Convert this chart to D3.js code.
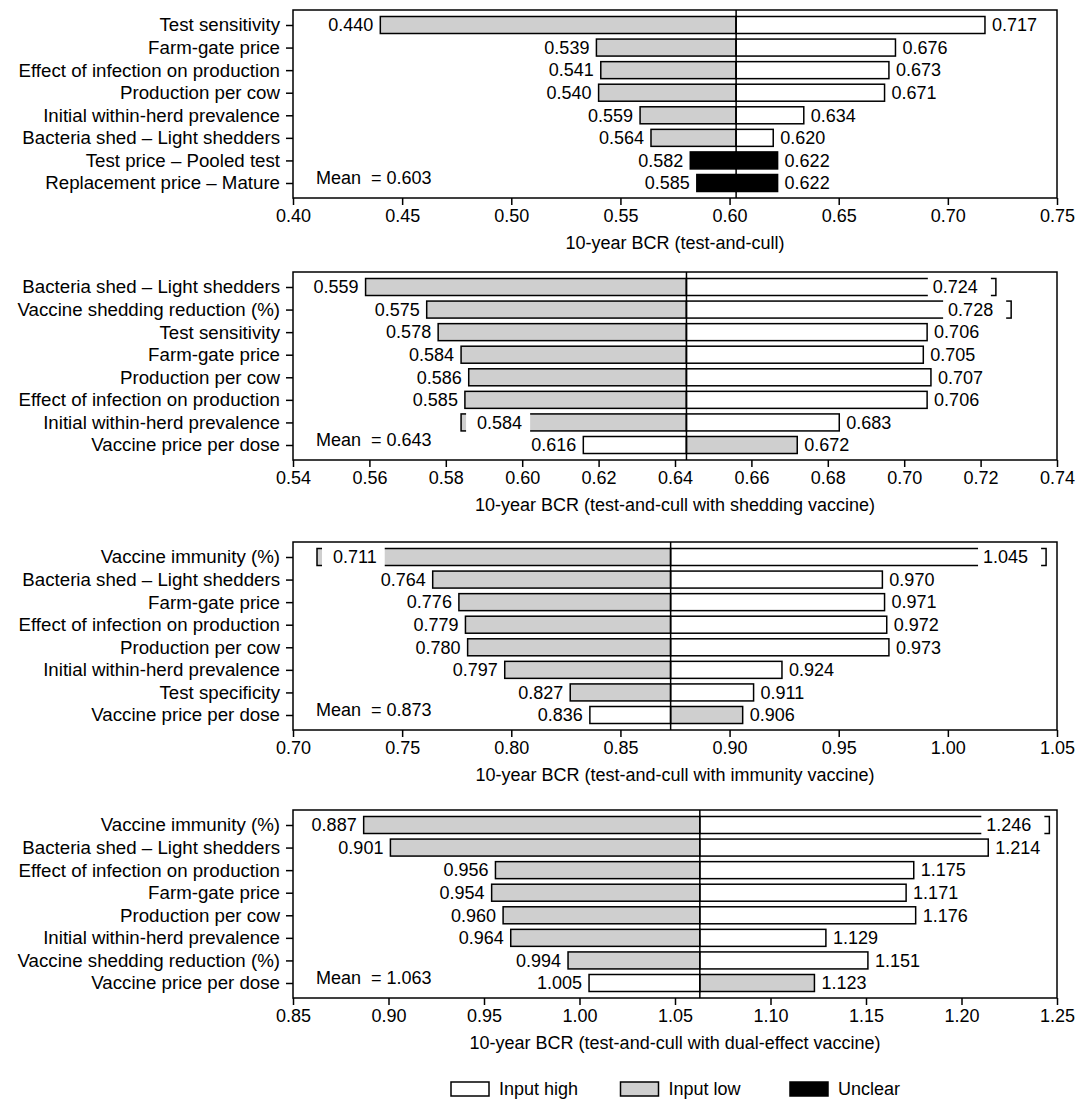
<!DOCTYPE html>
<html>
<head>
<meta charset="utf-8">
<script src="https://cdn.jsdelivr.net/npm/d3@7"></script>
<style>
  body { margin: 0; background: #fff; }
  text { font-family: Arial, "Liberation Sans", sans-serif; font-size: 18px; fill: #000; }
</style>
</head>
<body>
<script>
// tornado charts, 4 panels, one per strategy

// panel 1 : test-and-cull
var p1Categories = ["Test sensitivity", "Farm-gate price", "Effect of infection on production",
  "Production per cow", "Initial within-herd prevalence", "Bacteria shed \u2013 Light shedders",
  "Test price \u2013 Pooled test", "Replacement price \u2013 Mature"];
var p1Low  = [0.440, 0.539, 0.541, 0.540, 0.559, 0.564, 0.582, 0.585];
var p1High = [0.717, 0.676, 0.673, 0.671, 0.634, 0.620, 0.622, 0.622];
var p1Unclear = [false, false, false, false, false, false, true, true];
var p1Mean = 0.603;
var p1Ticks = [0.40, 0.45, 0.50, 0.55, 0.60, 0.65, 0.70, 0.75];

// panel 2 : shedding vaccine
var p2Categories = ["Bacteria shed \u2013 Light shedders", "Vaccine shedding reduction (%)", "Test sensitivity",
  "Farm-gate price", "Production per cow", "Effect of infection on production",
  "Initial within-herd prevalence", "Vaccine price per dose"];
var p2Low  = [0.559, 0.575, 0.578, 0.584, 0.586, 0.585, 0.584, 0.672];
var p2High = [0.724, 0.728, 0.706, 0.705, 0.707, 0.706, 0.683, 0.616];
var p2Mean = 0.643;
var p2Ticks = [0.54, 0.56, 0.58, 0.60, 0.62, 0.64, 0.66, 0.68, 0.70, 0.72, 0.74];

// panel 3 : immunity vaccine
var p3Categories = ["Vaccine immunity (%)", "Bacteria shed \u2013 Light shedders", "Farm-gate price",
  "Effect of infection on production", "Production per cow", "Initial within-herd prevalence",
  "Test specificity", "Vaccine price per dose"];
var p3Low  = [0.711, 0.764, 0.776, 0.779, 0.780, 0.797, 0.827, 0.906];
var p3High = [1.045, 0.970, 0.971, 0.972, 0.973, 0.924, 0.911, 0.836];
var p3Mean = 0.873;
var p3Ticks = [0.70, 0.75, 0.80, 0.85, 0.90, 0.95, 1.00, 1.05];

// panel 4 : dual-effect vaccine
var p4Categories = ["Vaccine immunity (%)", "Bacteria shed \u2013 Light shedders", "Effect of infection on production",
  "Farm-gate price", "Production per cow", "Initial within-herd prevalence",
  "Vaccine shedding reduction (%)", "Vaccine price per dose"];
var p4Low  = [0.887, 0.901, 0.956, 0.954, 0.960, 0.964, 0.994, 1.123];
var p4High = [1.246, 1.214, 1.175, 1.171, 1.176, 1.129, 1.151, 1.005];
var p4Mean = 1.063;
var p4Ticks = [0.85, 0.90, 0.95, 1.00, 1.05, 1.10, 1.15, 1.20, 1.25];

// labels drawn inside the bar end: [row, side]
var p2Inside = [[0, "right"], [1, "right"], [6, "left"]];
var p3Inside = [[0, "left"], [0, "right"]];
var p4Inside = [[0, "right"]];

var noFlags = [false, false, false, false, false, false, false, false];

var panels = [
  {cats: p1Categories, low: p1Low, high: p1High, unclear: p1Unclear, mean: p1Mean, ticks: p1Ticks, inside: [],
   title: "10-year BCR (test-and-cull)", top: 10},
  {cats: p2Categories, low: p2Low, high: p2High, unclear: noFlags, mean: p2Mean, ticks: p2Ticks, inside: p2Inside,
   title: "10-year BCR (test-and-cull with shedding vaccine)", top: 272},
  {cats: p3Categories, low: p3Low, high: p3High, unclear: noFlags, mean: p3Mean, ticks: p3Ticks, inside: p3Inside,
   title: "10-year BCR (test-and-cull with immunity vaccine)", top: 542},
  {cats: p4Categories, low: p4Low, high: p4High, unclear: noFlags, mean: p4Mean, ticks: p4Ticks, inside: p4Inside,
   title: "10-year BCR (test-and-cull with dual-effect vaccine)", top: 810}
];

var width = 1084, height = 1112;
var left = 293, right = 1057;
var boxH = 188, pad = 15, barH = 17;
var GRAY = "#cfcfcf";

var svg = d3.select("body").append("svg").attr("width", width).attr("height", height);

panels.forEach(function (p) {
  var g = svg.append("g");
  var x = d3.scaleLinear().domain([p.ticks[0], p.ticks[p.ticks.length - 1]]).range([left, right]);
  var y = d3.scalePoint().domain(p.cats).range([p.top + pad, p.top + boxH - pad]);

  var rows = p.cats.map(function (c, i) {
    var lo = p.low[i], hi = p.high[i];
    var lowIsLeft = lo <= hi;
    return {
      cat: c, i: i,
      lv: Math.min(lo, hi), rv: Math.max(lo, hi),
      lfill: p.unclear[i] ? "#000" : (lowIsLeft ? GRAY : "#fff"),
      rfill: p.unclear[i] ? "#000" : (lowIsLeft ? "#fff" : GRAY)
    };
  });

  // bars
  rows.forEach(function (r) {
    g.append("rect")
      .attr("x", x(r.lv)).attr("width", x(p.mean) - x(r.lv))
      .attr("y", y(r.cat) - barH / 2).attr("height", barH)
      .attr("fill", r.lfill).attr("stroke", "#000").attr("stroke-width", 1.5);
    g.append("rect")
      .attr("x", x(p.mean)).attr("width", x(r.rv) - x(p.mean))
      .attr("y", y(r.cat) - barH / 2).attr("height", barH)
      .attr("fill", r.rfill).attr("stroke", "#000").attr("stroke-width", 1.5);
  });

  // mean line
  g.append("line")
    .attr("x1", x(p.mean)).attr("x2", x(p.mean))
    .attr("y1", p.top).attr("y2", p.top + boxH)
    .attr("stroke", "#000").attr("stroke-width", 1.5);

  // value labels
  rows.forEach(function (r) {
    ["left", "right"].forEach(function (side) {
      var v = side == "left" ? r.lv : r.rv;
      var inside = p.inside.some(function (d) { return d[0] == r.i && d[1] == side; });
      var cy = y(r.cat);
      var t = g.append("text").attr("y", cy).attr("dy", "0.35em").text(d3.format(".3f")(v));
      if (!inside) {
        if (side == "left") t.attr("x", x(v) - 7).attr("text-anchor", "end");
        else t.attr("x", x(v) + 7);
        return;
      }
      var tw = t.node().getComputedTextLength();
      var gx0, gx1;
      if (side == "left") {
        t.attr("x", x(v) + 16);
        gx0 = x(v) + 5; gx1 = x(v) + 16 + tw + 8;
      } else {
        t.attr("x", x(v) - 18).attr("text-anchor", "end");
        gx0 = x(v) - 18 - tw - 5; gx1 = x(v) - 5;
      }
      g.insert("rect", "text")
        .attr("x", gx0).attr("width", gx1 - gx0)
        .attr("y", cy - barH / 2 - 2).attr("height", barH + 4)
        .attr("fill", "#fff");
    });
  });

  // frame
  g.append("rect")
    .attr("x", left).attr("y", p.top).attr("width", right - left).attr("height", boxH)
    .attr("fill", "none").attr("stroke", "#000").attr("stroke-width", 1.5);

  // axes
  var xa = g.append("g").attr("transform", "translate(0," + (p.top + boxH) + ")")
    .call(d3.axisBottom(x).tickValues(p.ticks).tickFormat(d3.format(".2f")).tickSize(7).tickPadding(4));
  var ya = g.append("g").attr("transform", "translate(" + left + ",0)")
    .call(d3.axisLeft(y).tickSize(7).tickPadding(6));
  [xa, ya].forEach(function (a) {
    a.select(".domain").remove();
    a.selectAll("line").attr("stroke", "#000").attr("stroke-width", 1.5);
    a.selectAll("text").attr("font-family", null).attr("font-size", null).style("font-size", "18px");
  });
  ya.selectAll("text").style("font-size", "18.7px");

  // mean label
  g.append("text").attr("x", left + 23).attr("y", y(p.cats[p.cats.length - 1]) + 1)
    .style("white-space", "pre").text("Mean  = " + d3.format(".3f")(p.mean));

  // axis title
  g.append("text").attr("x", (left + right) / 2).attr("y", p.top + boxH + 51)
    .attr("text-anchor", "middle").text(p.title);
});

// legend
var legendItems = [["Input high", "#fff"], ["Input low", GRAY], ["Unclear", "#000"]];
var lx = d3.scalePoint().domain(legendItems.map(function (d) { return d[0]; })).range([451, 790]);
var lg = svg.append("g");
legendItems.forEach(function (d) {
  lg.append("rect").attr("x", lx(d[0])).attr("y", 1082).attr("width", 38).attr("height", 14)
    .attr("fill", d[1]).attr("stroke", "#000").attr("stroke-width", 1.5);
  lg.append("text").attr("x", lx(d[0]) + 48).attr("y", 1089).attr("dy", "0.35em").text(d[0]);
});
</script>
</body>
</html>
